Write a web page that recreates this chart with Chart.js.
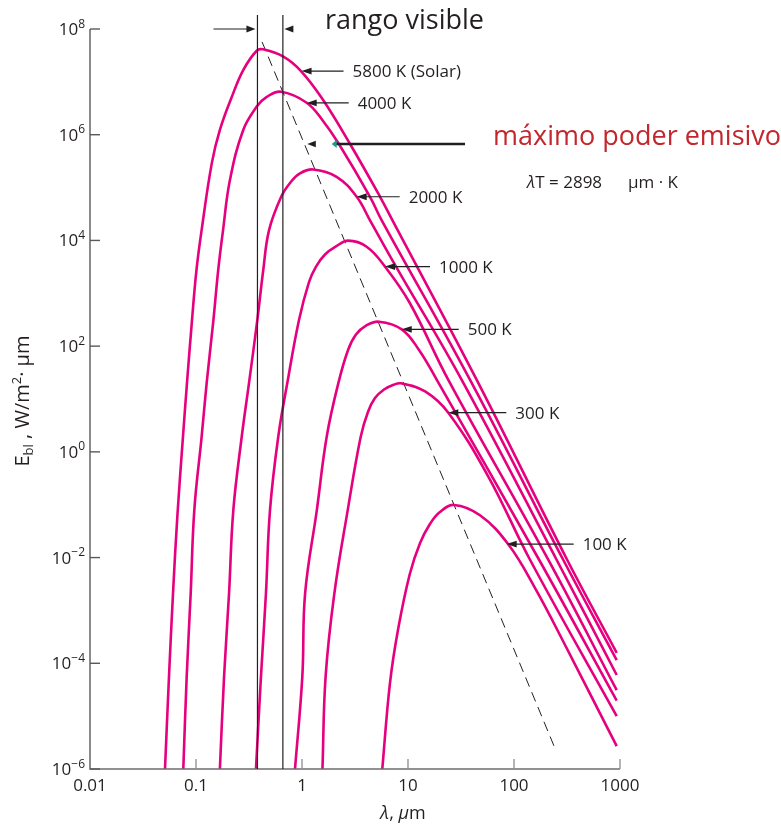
<!DOCTYPE html>
<html>
<head>
<meta charset="utf-8">
<title>Poder emisivo espectral del cuerpo negro</title>
<script src="https://cdn.jsdelivr.net/npm/chart.js"></script>
<style>
  body { margin: 0; background: #fff; overflow: hidden; }
  #wrap { position: relative; width: 781px; height: 827px; }
</style>
</head>
<body>
<div id="wrap"><canvas id="myChart"></canvas></div>
<script>
//values: wavelength in µm, E_bl in W/m²·µm
const temps = ["5800 K (Solar)", "4000 K", "2000 K", "1000 K", "500 K", "300 K", "100 K"];

const lam5800 = [0.051, 0.0556, 0.0607, 0.0668, 0.0753, 0.0822, 0.0917, 0.101, 0.113, 0.141, 0.168, 0.217, 0.279, 0.374, 0.428, 0.667, 0.978, 1.56, 2.84, 5.45, 7.14, 44.5, 318, 931];
const eb5800 = [1e-6, 5.5e-5, 2.1e-3, 0.064, 1.9, 20, 312, 2750, 1.57e4, 2.9e5, 1.23e6, 5.1e6, 1.67e7, 3.88e7, 4.12e7, 3.0e7, 1.6e7, 4.73e6, 6.67e5, 6.7e4, 2.4e4, 23, 9.0e-3, 1.58e-4];

const lam4000 = [0.0759, 0.0817, 0.0891, 0.0964, 0.113, 0.126, 0.146, 0.162, 0.18, 0.209, 0.279, 0.374, 0.465, 0.634, 1.107, 1.58, 2.23, 4.38, 5.65, 38.5, 292, 931];
const eb4000 = [1e-6, 5.6e-5, 2.1e-3, 0.079, 1.93, 19.8, 312, 2750, 1.57e4, 1.39e5, 1.23e6, 3.4e6, 5.2e6, 6.5e6, 4.03e6, 1.82e6, 6.67e5, 6.7e4, 2.4e4, 23, 9.0e-3, 1.15e-4];

const lam2000 = [0.168, 0.184, 0.205, 0.225, 0.27, 0.316, 0.379, 0.431, 0.489, 0.634, 0.771, 0.957, 1.27, 2.12, 3.28, 4.38, 7.71, 32.1, 253, 931];
const eb2000 = [1e-6, 5.6e-5, 2.1e-3, 0.079, 1.93, 19.8, 312, 2750, 1.57e4, 6.6e4, 1.22e5, 1.85e5, 2.2e5, 1.6e5, 6.7e4, 2.4e4, 3.2e3, 23, 9.0e-3, 6.0e-5];

const lam1000 = [0.368, 0.41, 0.457, 0.499, 0.597, 0.726, 0.937, 1.164, 1.356, 1.648, 2.09, 2.73, 4.07, 6.07, 10.4, 24, 211, 931];
const eb1000 = [1e-6, 5.6e-5, 2.1e-3, 0.079, 1.93, 19.8, 312, 1633, 3.2e3, 5.41e3, 7.68e3, 9.9e3, 7.6e3, 3.2e3, 655, 23, 9.0e-3, 3.1e-5];

const lam500 = [0.859, 1.007, 1.07, 1.38, 1.71, 2.2, 2.72, 3.23, 4.02, 5.33, 8.73, 12.7, 18.7, 173, 931];
const eb500 = [1e-6, 5.6e-5, 2.1e-3, 0.079, 1.93, 19.8, 84.6, 166, 245, 290, 208, 84.6, 23, 9.0e-3, 1.96e-5];

const lam300 = [1.56, 1.67, 2.02, 2.7, 3.58, 4.19, 4.88, 5.94, 7.22, 8.6, 14.5, 24, 56.9, 142, 931];
const eb300 = [1e-6, 5.6e-5, 2.1e-3, 0.079, 1.93, 5.68, 10.4, 15.1, 18.4, 19.8, 13.9, 5.5, 0.349, 9.0e-3, 1.0e-5];

const lam100 = [5.72, 6.76, 8.05, 10.4, 13.0, 16.1, 20.0, 27.2, 47.8, 88.3, 158, 290, 931];
const eb100 = [1e-6, 4.2e-5, 4.3e-4, 4.89e-3, 0.0188, 0.0431, 0.0728, 0.099, 0.063, 0.0178, 2.65e-3, 2.64e-4, 2.7e-6];

//locus of the maxima (dashed)
const lamPeak = [0.42, 247];
const ebPeak = [5.7e7, 2.3e-6];

//visible range limits
const visibleRange = [0.38, 0.66];

const xTicks = [0.01, 0.1, 1, 10, 100, 1000];
const xTickLabels = ["0.01", "0.1", "1", "10", "100", "1000"];
const yTicks = [1e-6, 1e-4, 1e-2, 1, 1e2, 1e4, 1e6, 1e8];
const yTickExp = ["\u22126", "\u22124", "\u22122", "0", "2", "4", "6", "8"];

const ink = "#231f20";
const pink = "#e6007e";
const fam = "'Open Sans', sans-serif";

function pts(xs, ys) {
  return xs.map((x, i) => ({ x: x, y: ys[i] }));
}

const curves = [
  [lam5800, eb5800],
  [lam4000, eb4000],
  [lam2000, eb2000],
  [lam1000, eb1000],
  [lam500, eb500],
  [lam300, eb300],
  [lam100, eb100],
];

const datasets = curves.map((c, i) => ({
  label: temps[i],
  data: pts(c[0], c[1]),
  borderColor: pink,
  borderWidth: 2.6,
  pointRadius: 0,
  tension: 0.4,
  fill: false,
}));
datasets.push({
  label: "max",
  data: pts(lamPeak, ebPeak),
  borderColor: ink,
  borderWidth: 1,
  borderDash: [10, 6],
  pointRadius: 0,
  fill: false,
});

//arrows pointing at each curve
const tags = [
  { lam: 0.99, eb: 1.6e7, len: 42 },
  { lam: 1.107, eb: 4.0e6, len: 42 },
  { lam: 3.28, eb: 6.7e4, len: 43 },
  { lam: 6.07, eb: 3.2e3, len: 45 },
  { lam: 8.73, eb: 208, len: 57 },
  { lam: 24, eb: 5.5, len: 58 },
  { lam: 85.3, eb: 0.018, len: 67 },
];

function head(ctx, x, y, dir, len, half, color) {
  ctx.fillStyle = color;
  ctx.beginPath();
  ctx.moveTo(x, y);
  ctx.lineTo(x - dir * len, y - half);
  ctx.lineTo(x - dir * len, y + half);
  ctx.closePath();
  ctx.fill();
}

function richWidth(ctx, parts) {
  let w = 0;
  parts.forEach((p) => {
    ctx.font = (p.it ? "italic " : "") + p.size + "px " + fam;
    w += ctx.measureText(p.t).width;
  });
  return w;
}

function drawRich(ctx, parts, x, y) {
  parts.forEach((p) => {
    ctx.font = (p.it ? "italic " : "") + p.size + "px " + fam;
    ctx.fillText(p.t, x, y + (p.dy || 0));
    x += ctx.measureText(p.t).width;
  });
}

const extras = {
  id: "extras",
  afterDraw(chart) {
    const ctx = chart.ctx;
    const xs = chart.scales.x;
    const ys = chart.scales.y;
    const a = chart.chartArea;
    ctx.save();

    //axes
    ctx.strokeStyle = "#6d6e71";
    ctx.lineWidth = 1.6;
    ctx.beginPath();
    ctx.moveTo(a.left, a.top);
    ctx.lineTo(a.left, a.bottom);
    ctx.lineTo(a.right, a.bottom);
    ctx.stroke();

    //inner tick marks
    ctx.lineWidth = 1.4;
    ctx.strokeStyle = "#939598";
    xs.ticks.forEach((t) => {
      const px = xs.getPixelForValue(t.value);
      if (px <= a.left + 1) return;
      ctx.beginPath();
      ctx.moveTo(px, a.bottom);
      ctx.lineTo(px, a.bottom - 10);
      ctx.stroke();
    });
    ctx.strokeStyle = "#58595b";
    ys.ticks.forEach((t) => {
      const py = ys.getPixelForValue(t.value);
      ctx.beginPath();
      ctx.moveTo(a.left, py);
      ctx.lineTo(a.left + 10, py);
      ctx.stroke();
    });

    //tick labels
    ctx.fillStyle = ink;
    ctx.textBaseline = "alphabetic";
    ctx.textAlign = "center";
    ctx.font = "17px " + fam;
    xTicks.forEach((v, i) => {
      ctx.fillText(xTickLabels[i], xs.getPixelForValue(v), a.bottom + 22);
    });
    ctx.textAlign = "left";
    yTicks.forEach((v, i) => {
      const py = ys.getPixelForValue(v);
      const parts = [
        { t: "10", size: 17 },
        { t: yTickExp[i], size: 12, dy: -7.5 },
      ];
      const w = richWidth(ctx, parts);
      drawRich(ctx, parts, a.left - 5 - w, py + 6);
    });

    //axis titles
    const xt = [
      { t: "\u03bb", size: 18, it: true },
      { t: ", ", size: 18 },
      { t: "\u03bc", size: 18, it: true },
      { t: "m", size: 18 },
    ];
    drawRich(ctx, xt, 403 - richWidth(ctx, xt) / 2, 819);

    const yt = [
      { t: "E", size: 20 },
      { t: "bl", size: 13, dy: 4 },
      { t: " , W/m", size: 20 },
      { t: "2", size: 13, dy: -8 },
      { t: "\u00b7 \u00b5m", size: 20 },
    ];
    ctx.save();
    ctx.translate(29, 401);
    ctx.rotate(-Math.PI / 2);
    drawRich(ctx, yt, -richWidth(ctx, yt) / 2, 0);
    ctx.restore();

    //visible range
    ctx.strokeStyle = ink;
    ctx.lineWidth = 1.2;
    const v1 = xs.getPixelForValue(visibleRange[0]);
    const v2 = xs.getPixelForValue(visibleRange[1]);
    [v1, v2].forEach((px) => {
      ctx.beginPath();
      ctx.moveTo(px, 15);
      ctx.lineTo(px, a.bottom);
      ctx.stroke();
    });
    const topY = ys.getPixelForValue(1e8);
    ctx.beginPath();
    ctx.moveTo(v1 - 44, topY);
    ctx.lineTo(v1 - 8, topY);
    ctx.stroke();
    head(ctx, v1 - 2, topY, 1, 9, 3.5, ink);
    head(ctx, v2 + 1.5, topY, -1, 9, 3.5, ink);
    ctx.font = "27px " + fam;
    ctx.fillText("rango visible", 325, 29);

    //curve tags
    ctx.font = "17px " + fam;
    tags.forEach((g, i) => {
      const px = xs.getPixelForValue(g.lam);
      const py = ys.getPixelForValue(g.eb);
      ctx.beginPath();
      ctx.moveTo(px + 8, py);
      ctx.lineTo(px + g.len, py);
      ctx.stroke();
      head(ctx, px, py, -1, 10, 3.4, ink);
      ctx.fillText(temps[i], px + g.len + 9, py + 6);
    });

    //maximum emissive power marker
    const my = ys.getPixelForValue(6.67e5);
    const mTip = xs.getPixelForValue(1.905);
    ctx.lineWidth = 2.6;
    ctx.beginPath();
    ctx.moveTo(mTip + 3, my);
    ctx.lineTo(xs.getPixelForValue(34.5), my);
    ctx.stroke();
    head(ctx, mTip, my, -1, 5, 4, "#1a9b8c");
    head(ctx, xs.getPixelForValue(1.122), my, -1, 8.5, 3.2, ink);

    ctx.fillStyle = "#c1272d";
    ctx.font = "27px " + fam;
    ctx.fillText("m\u00e1ximo poder emisivo", 493, 145);

    ctx.fillStyle = ink;
    drawRich(ctx, [
      { t: "\u03bb", size: 17, it: true },
      { t: "T = 2898", size: 17 },
    ], 527, 188);
    ctx.font = "17px " + fam;
    ctx.fillText("\u00b5m \u00b7 K", 628, 188);

    ctx.restore();
  },
};

const ctx = document.getElementById("myChart");
const myChart = new Chart(ctx, {
  type: "line",
  data: { datasets: datasets },
  options: {
    responsive: true,
    maintainAspectRatio: false,
    animation: false,
    layout: { padding: { top: 29, right: 161, left: 0, bottom: 0 } },
    plugins: {
      legend: { display: false },
      tooltip: { enabled: false },
    },
    scales: {
      x: {
        type: "logarithmic",
        min: 0.01,
        max: 1000,
        afterBuildTicks: (s) => {
          s.ticks = xTicks.map((v) => ({ value: v }));
        },
        afterFit: (s) => {
          s.height = 58;
        },
        grid: { display: false },
        border: { display: false },
        ticks: { display: false },
      },
      y: {
        type: "logarithmic",
        min: 1e-6,
        max: 1e8,
        afterBuildTicks: (s) => {
          s.ticks = yTicks.map((v) => ({ value: v }));
        },
        afterFit: (s) => {
          s.width = 90;
        },
        grid: { display: false },
        border: { display: false },
        ticks: { display: false },
      },
    },
  },
  plugins: [extras],
});
</script>
</body>
</html>
